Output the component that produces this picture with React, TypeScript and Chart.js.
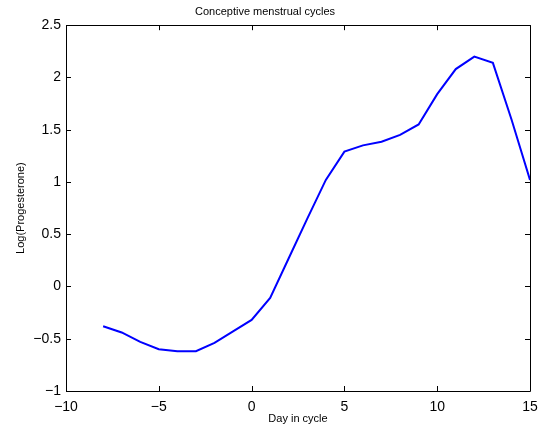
import React, { useEffect, useRef } from "react";
import { Chart, registerables } from "chart.js";

Chart.register(...registerables);

const days = [-8, -7, -6, -5, -4, -3, -2, -1, 0, 1, 2, 3, 4, 5, 6, 7, 8, 9, 10, 11, 12, 13, 14, 15];
const logProgesterone = [
  -0.38, -0.44, -0.53, -0.6, -0.62, -0.62, -0.54, -0.43, -0.32, -0.11, 0.27, 0.65,
  1.02, 1.29, 1.35, 1.385, 1.45, 1.55, 1.84, 2.08, 2.2, 2.14, 1.6, 1.02,
];
const xTicks = [-10, -5, 0, 5, 10, 15];
const yTicks = [-1, -0.5, 0, 0.5, 1, 1.5, 2, 2.5];

const titleText = "Conceptive menstrual cycles";
const xLabel = "Day in cycle";
const yLabel = "Log(Progesterone)";

const FONT = "'Liberation Sans', Arial, Helvetica, sans-serif";

const fmt = (v: number) => (v < 0 ? "\u2212" + String(-v) : String(v));

const boxTicks = {
  id: "boxTicks",
  afterDraw(chart: any) {
    const { ctx, chartArea } = chart;
    const { left, right, top, bottom } = chartArea;
    const xs = chart.scales.x;
    const ys = chart.scales.y;
    const L = 5;
    ctx.save();
    ctx.strokeStyle = "#000";
    ctx.lineWidth = 1;
    ctx.beginPath();
    ctx.rect(Math.round(left) + 0.5, Math.round(top) + 0.5, Math.round(right - left), Math.round(bottom - top));
    ctx.stroke();
    ctx.beginPath();
    xTicks.forEach((t) => {
      const px = Math.round(xs.getPixelForValue(t)) + 0.5;
      ctx.moveTo(px, bottom);
      ctx.lineTo(px, bottom - L);
      ctx.moveTo(px, top);
      ctx.lineTo(px, top + L);
    });
    yTicks.forEach((t) => {
      const py = Math.round(ys.getPixelForValue(t)) + 0.5;
      ctx.moveTo(left, py);
      ctx.lineTo(left + L, py);
      ctx.moveTo(right, py);
      ctx.lineTo(right - L, py);
    });
    ctx.stroke();
    ctx.restore();
  },
};

export default function App() {
  const ref = useRef<HTMLCanvasElement | null>(null);

  useEffect(() => {
    if (!ref.current) return;
    const chart = new Chart(ref.current, {
      type: "line",
      data: {
        datasets: [
          {
            data: days.map((d, i) => ({ x: d, y: logProgesterone[i] })),
            borderColor: "#0000ff",
            borderWidth: 2,
            pointRadius: 0,
            fill: false,
            tension: 0,
          },
        ],
      },
      options: {
        responsive: false,
        animation: false,
        events: [],
        layout: { padding: { left: 0, right: 13, top: 0, bottom: 0 } },
        plugins: {
          legend: { display: false },
          tooltip: { enabled: false },
          title: {
            display: true,
            text: titleText,
            color: "#000",
            font: { family: FONT, size: 11, weight: "normal", lineHeight: 1.2 },
            padding: { top: 5, bottom: 7 },
          },
        },
        scales: {
          x: {
            type: "linear",
            min: -10,
            max: 15,
            afterBuildTicks: (s: any) => {
              s.ticks = xTicks.map((v) => ({ value: v }));
            },
            afterFit: (s: any) => {
              s.height = 38;
              s.paddingLeft = 0;
              s.paddingRight = 0;
            },
            grid: { display: false, drawTicks: false },
            border: { display: false },
            ticks: {
              color: "#000",
              padding: 8,
              maxRotation: 0,
              autoSkip: false,
              font: { family: FONT, size: 14 },
              callback: (v: any) => fmt(Number(v)),
            },
            title: {
              display: true,
              text: xLabel,
              color: "#000",
              font: { family: FONT, size: 11, lineHeight: 1.2 },
              padding: { top: 0, bottom: 3 },
            },
          },
          y: {
            type: "linear",
            min: -1,
            max: 2.5,
            afterBuildTicks: (s: any) => {
              s.ticks = yTicks.map((v) => ({ value: v }));
            },
            afterFit: (s: any) => {
              s.width = 66;
              s.paddingTop = 0;
              s.paddingBottom = 0;
            },
            grid: { display: false, drawTicks: false },
            border: { display: false },
            ticks: {
              color: "#000",
              padding: 5,
              autoSkip: false,
              font: { family: FONT, size: 14 },
              callback: (v: any) => fmt(Number(v)),
            },
            title: {
              display: true,
              text: yLabel,
              color: "#000",
              font: { family: FONT, size: 11, lineHeight: 1.2 },
              padding: { top: 14, bottom: 0 },
            },
          },
        },
      },
      plugins: [boxTicks],
    });
    return () => chart.destroy();
  }, []);

  return (
    <div style={{ position: "absolute", left: 0, top: 0, width: 543, height: 429, background: "#fff" }}>
      <canvas ref={ref} width={543} height={429} style={{ width: 543, height: 429, display: "block" }} />
    </div>
  );
}
